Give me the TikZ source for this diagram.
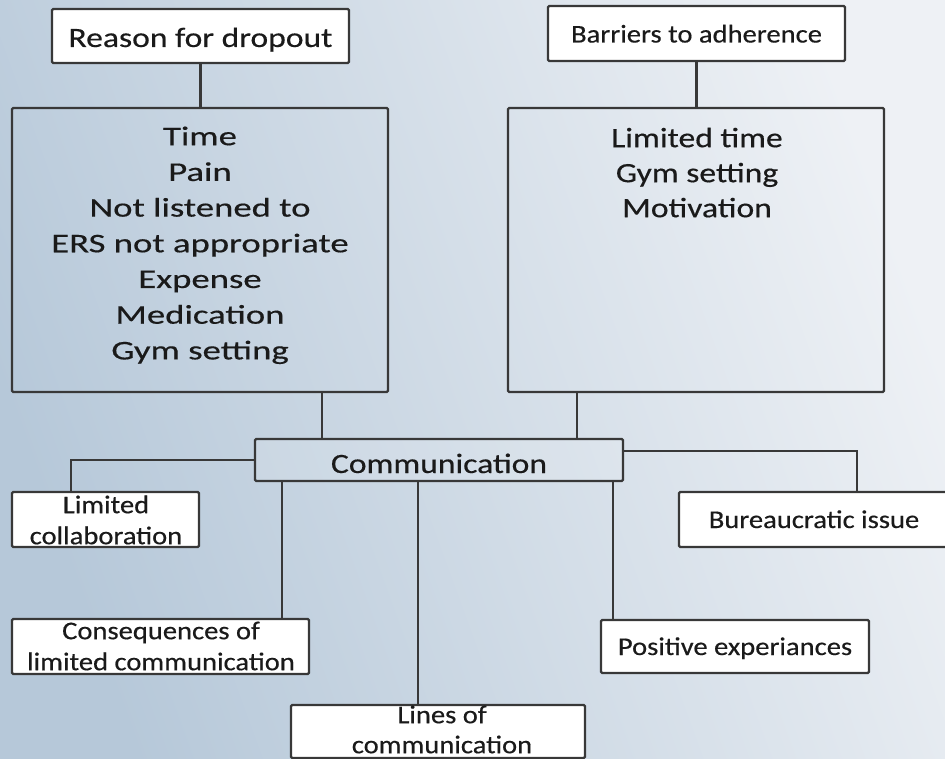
\documentclass[tikz,border=0pt]{standalone}
\usepackage{fontspec}
\setmainfont{Carlito}
\newfontfamily\fA{Carlito}[FakeStretch=1.2,FakeBold=0.4]
\newfontfamily\fB{Carlito}[FakeStretch=1.36,FakeBold=0.4]
\newfontfamily\fC{Carlito}[FakeStretch=1.12,FakeBold=0.4]
\usetikzlibrary{calc}
\definecolor{bgdark}{HTML}{B6C8D9}
\definecolor{bglight}{HTML}{EEF1F5}
\definecolor{edge}{HTML}{383838}
\definecolor{ink}{HTML}{1A1A1A}
\newcommand{\tstrut}{\rule{0pt}{24pt}}
\begin{document}
\begin{tikzpicture}[x=1pt,y=-1pt,
  box/.style={draw=edge,line width=2.3pt,rounded corners=1.2pt,inner sep=0pt,text=ink},
  wbox/.style={box,fill=white},
  txt/.style={inner sep=0pt,anchor=north,align=center,text=ink},
  conn/.style={draw=edge,line width=2.2pt},
  bigA/.style={font=\fA\fontsize{28}{35}\selectfont},
  bigB/.style={font=\fB\fontsize{27}{35.7}\selectfont},
  smallC/.style={font=\fC\fontsize{25.5}{31}\selectfont}
]
\useasboundingbox (0,0) rectangle (945,759);
\shade[top color=bglight,bottom color=bgdark,shading angle=-70] (0,0) rectangle (945,759);

% top boxes
\node[wbox,bigA,minimum width=297pt,minimum height=54pt,text height=22pt,text depth=0pt] (reason) at (200.5,36) {Reason for dropout};
\node[wbox,smallC,minimum width=297pt,minimum height=55pt,text height=18pt,text depth=0pt] (barriers) at (696.5,33.5) {Barriers to adherence};

% big boxes
\node[box,minimum width=376pt,minimum height=284pt] (drop) at (200,250) {};
\node[txt,bigB] (dropt) at (200,121) {\tstrut Time\\Pain\\Not listened to\\ERS not appropriate\\Expense\\Medication\\Gym setting};
\node[box,minimum width=376pt,minimum height=284pt] (barr) at (696,250) {};
\node[txt,bigA] (barrt) at (697,123) {\tstrut Limited time\\Gym setting\\Motivation};

% communication
\node[box,fill=white,fill opacity=0.12,text opacity=1,bigA,minimum width=368pt,minimum height=42pt,text height=26pt,text depth=0pt] (comm) at (439,460) {Communication};

% lower boxes
\node[wbox,minimum width=187pt,minimum height=55pt] (limcol) at (105.5,519.5) {};
\node[txt,smallC] (limcolt) at (106,489) {\tstrut Limited\\collaboration};
\node[wbox,smallC,minimum width=270pt,minimum height=55pt,text height=17pt,text depth=0pt] (bureau) at (814,519.5) {Bureaucratic issue};
\node[wbox,minimum width=297pt,minimum height=55pt] (conseq) at (160.5,646.5) {};
\node[txt,smallC] (conseqt) at (161,615) {\tstrut Consequences of\\limited communication};
\node[wbox,smallC,minimum width=268pt,minimum height=53pt,text height=17pt,text depth=0pt] (pos) at (735,646.5) {Positive experiances};
\node[wbox,minimum width=294pt,minimum height=53pt] (lines) at (438,731.5) {};
\node[txt,smallC,font=\fC\fontsize{25.5}{30}\selectfont] (linest) at (442,699) {\tstrut Lines of\\communication};

% connectors
\draw[conn] (reason.south) -- (reason.south |- drop.north);
\draw[conn] (barriers.south) -- (barriers.south |- barr.north);
\draw[conn] ([xshift=122pt]drop.south) -- ([xshift=122pt]drop.south |- comm.north);
\draw[conn] ([xshift=-119pt]barr.south) -- ([xshift=-119pt]barr.south |- comm.north);
\draw[conn] (comm.west) -| ([xshift=-34.5pt]limcol.north);
\draw[conn] ([yshift=9pt]comm.east) -| ([xshift=43pt]bureau.north);
\draw[conn] ([xshift=-157pt]comm.south) -- ([xshift=-157pt]comm.south |- conseq.north);
\draw[conn] ([xshift=-21pt]comm.south) -- ([xshift=-21pt]comm.south |- lines.north);
\draw[conn] ([xshift=174pt]comm.south) -- ([xshift=174pt]comm.south |- pos.north);
\end{tikzpicture}
\end{document}
